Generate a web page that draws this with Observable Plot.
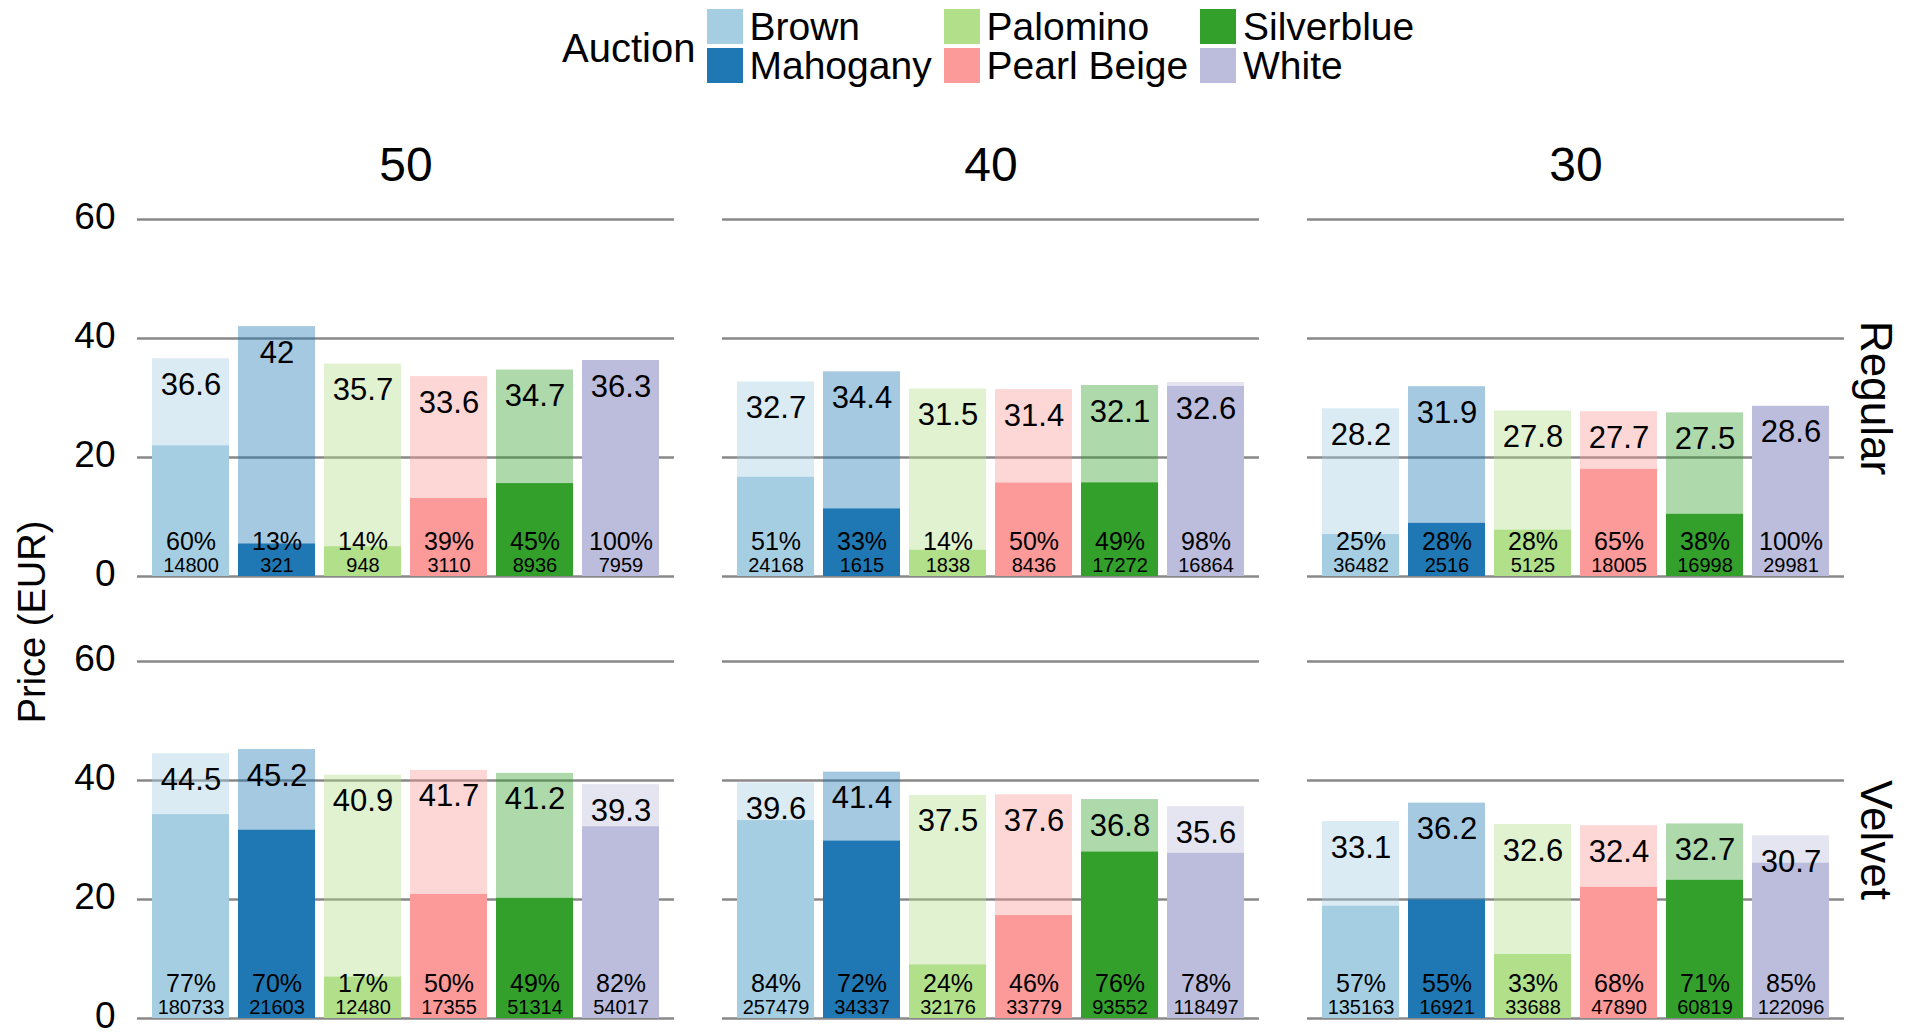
<!DOCTYPE html>
<html>
<head>
<meta charset="utf-8">
<script src="https://cdn.jsdelivr.net/npm/d3@7"></script>
<script src="https://cdn.jsdelivr.net/npm/@observablehq/plot@0.6"></script>
<style>
  html, body { margin: 0; padding: 0; background: #fff; }
  body { font-family: "Liberation Sans", Arial, sans-serif; color: #000; width: 1913px; }
  #legend { position: relative; height: 90px; width: 1913px; }
  #legend .t { position: absolute; font-size: 39px; line-height: 35px; white-space: nowrap; }
  #legend .sw { position: absolute; width: 36px; height: 35px; }
  #chart svg { display: block; }
</style>
</head>
<body>
<div id="legend"></div>
<div id="chart"></div>
<script>
// ---- data ----
const auctions = ["Brown", "Mahogany", "Palomino", "Pearl Beige", "Silverblue", "White"];
const palette = ["#a6cee3", "#1f78b4", "#b2df8a", "#fb9a99", "#33a02c", "#bcbddc"];
const sizes = ["50", "40", "30"];
const types = ["Regular", "Velvet"];
const yTicks = [0, 20, 40, 60];

// rows: sizes 50, 40, 30 ; columns: auctions
const priceRegular = [
  [36.6, 42, 35.7, 33.6, 34.7, 36.3],
  [32.7, 34.4, 31.5, 31.4, 32.1, 32.6],
  [28.2, 31.9, 27.8, 27.7, 27.5, 28.6]
];
const pctRegular = [
  [60, 13, 14, 39, 45, 100],
  [51, 33, 14, 50, 49, 98],
  [25, 28, 28, 65, 38, 100]
];
const countRegular = [
  [14800, 321, 948, 3110, 8936, 7959],
  [24168, 1615, 1838, 8436, 17272, 16864],
  [36482, 2516, 5125, 18005, 16998, 29981]
];
const priceVelvet = [
  [44.5, 45.2, 40.9, 41.7, 41.2, 39.3],
  [39.6, 41.4, 37.5, 37.6, 36.8, 35.6],
  [33.1, 36.2, 32.6, 32.4, 32.7, 30.7]
];
const pctVelvet = [
  [77, 70, 17, 50, 49, 82],
  [84, 72, 24, 46, 76, 78],
  [57, 55, 33, 68, 71, 85]
];
const countVelvet = [
  [180733, 21603, 12480, 17355, 51314, 54017],
  [257479, 34337, 32176, 33779, 93552, 118497],
  [135163, 16921, 33688, 47890, 60819, 122096]
];

// ---- table ----
const table = [];
const sources = {
  Regular: [priceRegular, pctRegular, countRegular],
  Velvet: [priceVelvet, pctVelvet, countVelvet]
};
types.forEach(type => {
  const [P, Q, C] = sources[type];
  sizes.forEach((size, si) => {
    auctions.forEach((a, ai) => {
      table.push({type, size, auction: a, price: P[si][ai], pct: Q[si][ai], count: C[si][ai]});
    });
  });
});

// ---- legend (HTML) ----
const legend = document.getElementById("legend");
const title = document.createElement("div");
title.className = "t";
title.style.left = "562px";
title.style.top = "31px";
title.style.fontSize = "40px";
title.textContent = "Auction";
legend.appendChild(title);
const colLeft = [706.5, 943.6, 1200];
const rowTop = [9, 48];
auctions.forEach((a, i) => {
  const c = Math.floor(i / 2), r = i % 2;
  const sw = document.createElement("div");
  sw.className = "sw";
  sw.style.left = colLeft[c] + "px";
  sw.style.top = rowTop[r] + "px";
  sw.style.background = palette[i];
  legend.appendChild(sw);
  const t = document.createElement("div");
  t.className = "t";
  t.style.left = (colLeft[c] + 43) + "px";
  t.style.top = rowTop[r] + "px";
  t.textContent = a;
  legend.appendChild(t);
});

// ---- chart ----
const chart = Plot.plot({
  width: 1913,
  height: 945,
  marginLeft: 136,
  marginRight: 69,
  marginTop: 129,
  marginBottom: 16.7,
  style: {fontFamily: "'Liberation Sans', Arial, sans-serif", background: "#fff", color: "#000"},
  fx: {domain: sizes, paddingInner: 0.0828, paddingOuter: 0},
  fy: {domain: types, paddingInner: 0.1929, paddingOuter: 0, axis: null},
  x: {domain: auctions, paddingInner: 0.1, paddingOuter: 0.15, axis: null},
  y: {domain: [0, 60]},
  color: {domain: auctions, range: palette},
  marks: [
    Plot.ruleY(yTicks, {stroke: "#888", strokeWidth: 2.5}),
    Plot.axisY({ticks: yTicks, tickSize: 0, tickPadding: 22, fontSize: 37, dy: -2, label: null}),
    Plot.axisFx({anchor: "top", tickSize: 0, tickPadding: 39, fontSize: 48, label: null}),
    Plot.barY(table, {x: "auction", y1: 0, y2: "price", fx: "size", fy: "type", fill: "auction", fillOpacity: 0.4}),
    Plot.barY(table, {x: "auction", y1: 0, y2: d => d.price * d.pct / 100, fx: "size", fy: "type", fill: "auction"}),
    Plot.text(table, {x: "auction", y: "price", fx: "size", fy: "type", text: d => String(d.price), lineAnchor: "top", dy: 14, fontSize: 31, fill: "#000"}),
    Plot.text(table, {x: "auction", y: () => 0, fx: "size", fy: "type", text: d => d.pct + "%", lineAnchor: "bottom", dy: -27, fontSize: 25, fill: "#000"}),
    Plot.text(table, {x: "auction", y: () => 0, fx: "size", fy: "type", text: d => String(d.count), lineAnchor: "bottom", dy: -5, fontSize: 20, fill: "#000"}),
    Plot.text(types, {fx: () => sizes[sizes.length - 1], fy: d => d, text: d => d, frameAnchor: "right", textAnchor: "middle", lineAnchor: "middle", rotate: 90, dx: 31, fontSize: 44, fill: "#000"})
  ]
});
document.getElementById("chart").appendChild(chart);

// y-axis title
d3.select(chart).append("text")
  .attr("transform", "translate(32,532) rotate(-90)")
  .attr("text-anchor", "middle")
  .attr("dominant-baseline", "central")
  .attr("font-size", 38)
  .attr("fill", "#000")
  .text("Price (EUR)");
</script>
</body>
</html>
